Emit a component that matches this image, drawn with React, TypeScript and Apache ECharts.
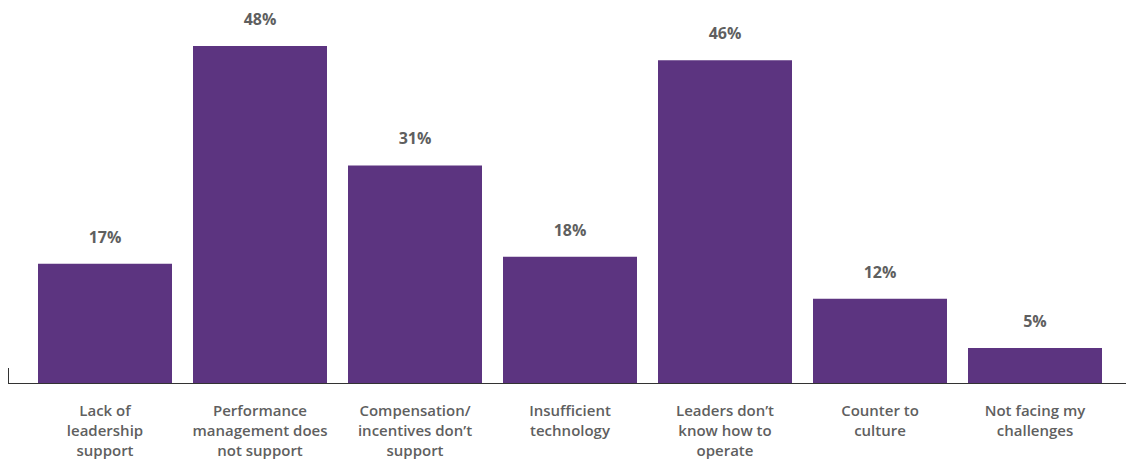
import React, { useEffect, useRef } from "react";
import * as echarts from "echarts";

const categories = [
  "Lack of\nleadership\nsupport",
  "Performance\nmanagement does\nnot support",
  "Compensation/\nincentives don’t\nsupport",
  "Insufficient\ntechnology",
  "Leaders don’t\nknow how to\noperate",
  "Counter to\nculture",
  "Not facing my\nchallenges",
];
const values = [17, 48, 31, 18, 46, 12, 5];

export default function App() {
  const ref = useRef<HTMLDivElement>(null);
  useEffect(() => {
    if (!ref.current) return;
    const chart = echarts.init(ref.current, null, { renderer: "svg" });
    chart.setOption({
      animation: false,
      textStyle: { fontFamily: "Open Sans" },
      grid: { left: 27.5, right: 13.5, top: 11, bottom: 79 },
      xAxis: {
        type: "category",
        data: categories,
        axisLine: { show: false },
        axisTick: { show: false },
        axisLabel: {
          interval: 0,
          margin: 17,
          color: "#5f5f5f",
          fontSize: 15,
          fontWeight: 600,
          lineHeight: 20,
          fontFamily: "Open Sans",
        },
      },
      yAxis: {
        type: "value",
        min: 0,
        max: 53,
        show: false,
        splitLine: { show: false },
      },
      series: [
        {
          type: "bar",
          data: values,
          barWidth: 134,
          itemStyle: { color: "#5c3480" },
          label: {
            show: true,
            position: "top",
            distance: 19,
            formatter: "{c}%",
            color: "#5f5f5f",
            fontSize: 16,
            fontWeight: 700,
            fontFamily: "Open Sans",
          },
        },
      ],
      graphic: [
        {
          type: "line",
          shape: { x1: 8, y1: 383.5, x2: 1126, y2: 383.5 },
          style: { stroke: "#333", lineWidth: 1 },
        },
        {
          type: "line",
          shape: { x1: 8.5, y1: 368, x2: 8.5, y2: 384 },
          style: { stroke: "#333", lineWidth: 1 },
        },
      ],
    });
    return () => chart.dispose();
  }, []);
  return <div ref={ref} style={{ width: 1126, height: 462, position: "absolute", left: 0, top: 0 }} />;
}
